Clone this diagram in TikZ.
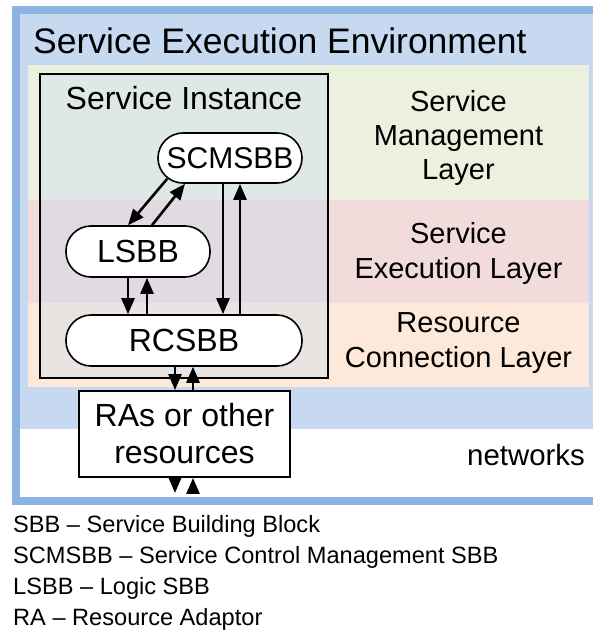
\documentclass[tikz,border=0pt]{standalone}
\usepackage{fontspec}
\setmainfont{Liberation Sans}
\usetikzlibrary{arrows.meta}

\definecolor{frameblue}{HTML}{8DB3E2}
\definecolor{envblue}{HTML}{C6D9F1}
\definecolor{smlgreen}{HTML}{EBF1DE}
\definecolor{selred}{HTML}{F2DCDB}
\definecolor{rclorange}{HTML}{FDE9D9}

\tikzset{
  % --- Bereiche ---------------------------------------------
  envframe/.style={draw=frameblue, fill=envblue, line width=8pt},
  instbox/.style={draw, line width=1.5pt, fill=envblue, fill opacity=0.35},
  % --- Bausteine --------------------------------------------
  sbb/.style={draw, fill=white, line width=1.6pt, rounded corners=25pt,
    minimum height=50pt, inner xsep=0pt, font=\fontsize{32}{36}\selectfont},
  resbox/.style={draw, fill=white, line width=1.8pt, minimum width=211pt,
    minimum height=86pt, align=center, inner sep=0pt,
    font=\fontsize{32}{37}\selectfont},
  % --- Texte ------------------------------------------------
  layerlbl/.style={anchor=north, align=center, inner sep=0pt,
    font=\fontsize{29}{35}\selectfont},
  plainlbl/.style={inner sep=0pt},
  legendtxt/.style={anchor=north west, align=left, inner sep=0pt,
    font=\fontsize{23.6}{31}\selectfont},
  % --- Pfeile -----------------------------------------------
  arr/.style={-{Triangle[length=16pt, width=13pt]}, line width=2.6pt}
}

\begin{document}
\begin{tikzpicture}[x=1pt, y=-1pt]
  \useasboundingbox (0,0) rectangle (592,634);

  % --- Umgebung ---------------------------------------------
  \draw[envframe] (16,10) rectangle (604,501);
  \fill[white] (20,429) rectangle (600,497);
  \node[plainlbl, anchor=base west, font=\fontsize{35.5}{40}\selectfont]
    (TITLE) at (33,53) {Service Execution Environment};

  % --- Schichten --------------------------------------------
  \fill[smlgreen] (28,65) rectangle (589,200);
  \fill[selred] (28,200) rectangle (589,303);
  \fill[rclorange] (28,303) rectangle (589,387);

  \node[layerlbl, font=\fontsize{29}{34}\selectfont] (SML) at (458.5,90)
    {Service\\Management\\Layer};
  \node[layerlbl] (SEL) at (458.5,222) {Service\\Execution Layer};
  \node[layerlbl] (RCL) at (458.5,312) {Resource\\Connection Layer};

  % --- Service Instance -------------------------------------
  \draw[instbox] (40,74) rectangle (328,378);
  \node[plainlbl, anchor=base, font=\fontsize{32}{36}\selectfont]
    (INST) at (184,109) {Service Instance};

  \node[sbb, minimum width=144pt, font=\fontsize{30}{34}\selectfont]
    (SCM) at (230,158) {SCMSBB};
  \node[sbb, minimum width=144pt, minimum height=51pt] (LSBB) at (138,251.5) {LSBB};
  \node[sbb, minimum width=236pt, minimum height=51pt] (RCSBB) at (184,340.5) {RCSBB};

  % --- Ressourcen / Netze -----------------------------------
  \node[resbox] (RAS) at (184.5,434) {RAs or other\\resources};
  \node[plainlbl, anchor=base west, font=\fontsize{29.4}{34}\selectfont]
    (NET) at (467,465) {networks};
  \coordinate (NETDN) at (175,493);
  \coordinate (NETUP) at (193,493);

  % --- Verbindungen -----------------------------------------
  \draw[arr] ([xshift=10pt,yshift=5pt]SCM.south west) -- (128,0 |- LSBB.north);
  \draw[arr] (152,0 |- LSBB.north) -- (185,0 |- SCM.south);
  \draw[arr] (223,0 |- SCM.south) -- (223,0 |- RCSBB.north);
  \draw[arr] (240,0 |- RCSBB.north) -- (240,0 |- SCM.south);
  \draw[arr] (128,0 |- LSBB.south) -- (128,0 |- RCSBB.north);
  \draw[arr] (147,0 |- RCSBB.north) -- (147,0 |- LSBB.south);
  \draw[arr] (175,0 |- RCSBB.south) -- (175,0 |- RAS.north);
  \draw[arr] (193,0 |- RAS.north) -- (193,0 |- RCSBB.south);
  \draw[arr] (175,0 |- RAS.south) -- (NETDN);
  \draw[arr] (NETUP) -- (193,0 |- RAS.south);

  % --- Legende ----------------------------------------------
  \node[legendtxt] (LEG) at (13,515)
    {SBB – Service Building Block\\
     SCMSBB – Service Control Management SBB\\
     LSBB – Logic SBB\\
     RA – Resource Adaptor};

\end{tikzpicture}
\end{document}
